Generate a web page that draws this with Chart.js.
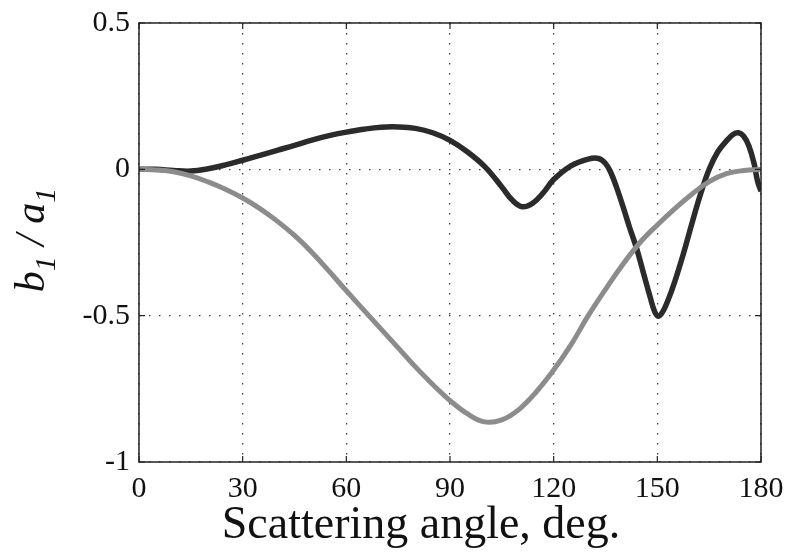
<!DOCTYPE html>
<html>
<head>
<meta charset="utf-8">
<script src="https://cdn.jsdelivr.net/npm/chart.js@4"></script>
<style>
  html, body { margin: 0; padding: 0; background: #fff; }
  #wrap { width: 788px; height: 553px; position: relative; }
</style>
</head>
<body>
<div id="wrap"><canvas id="chart"></canvas></div>
<script>
// scattering angle (deg) and b1/a1 values
const grayAngles = [0, 5, 10, 15, 20, 25, 30, 35, 40, 45, 50, 55, 60, 65, 70, 75, 80, 85, 90, 95,
  100, 105, 110, 115, 120, 125, 130, 135, 140, 145, 150, 155, 160, 165, 170, 175, 180];
const grayValues = [0, -0.002, -0.008, -0.022, -0.043, -0.068, -0.098, -0.134, -0.177, -0.226,
  -0.283, -0.348, -0.415, -0.48, -0.545, -0.61, -0.675, -0.735, -0.79, -0.835, -0.863, -0.856,
  -0.82, -0.76, -0.686, -0.6, -0.5, -0.41, -0.325, -0.25, -0.19, -0.135, -0.085, -0.042, -0.015,
  -0.004, 0];

const darkAngles = [0, 5, 10, 15, 20, 25, 30, 35, 40, 45, 50, 55, 60, 65, 70, 75, 80, 85, 90, 95,
  100, 105, 108, 111, 114, 117, 120, 125, 130, 133, 135, 136.5, 138, 140, 142, 144, 146, 148,
  149.2, 150.3, 151.5, 153, 155, 157.5, 160, 162.5, 165, 167.5, 170, 172, 173.5, 175, 176.5, 178,
  179, 180];
const darkValues = [0, 0, -0.004, -0.006, 0.002, 0.015, 0.031, 0.048, 0.065, 0.082, 0.1, 0.115,
  0.127, 0.137, 0.144, 0.145, 0.14, 0.125, 0.099, 0.06, 0.01, -0.06, -0.105, -0.128, -0.115, -0.08,
  -0.035, 0.012, 0.035, 0.037, 0.02, -0.01, -0.055, -0.125, -0.2, -0.27, -0.355, -0.44, -0.485,
  -0.502, -0.488, -0.45, -0.385, -0.29, -0.185, -0.085, 0, 0.06, 0.097, 0.12, 0.125, 0.113, 0.08,
  0.02, -0.04, -0.075];

const xTicks = [0, 30, 60, 90, 120, 150, 180];
const yTicks = [-1, -0.5, 0, 0.5];
const xTitle = 'Scattering angle, deg.';

const serif = '"Liberation Serif", "Times New Roman", serif';

function toPoints(xs, ys) {
  return xs.map((x, i) => ({ x: x, y: ys[i] }));
}

// frame, inward tick marks, axis titles (y one has subscripts)
const framePlugin = {
  id: 'frame',
  afterDatasetsDraw(chart) {
    const { ctx, chartArea: a, scales } = chart;
    ctx.save();
    ctx.strokeStyle = '#222';
    ctx.lineWidth = 1.5;
    ctx.strokeRect(a.left, a.top, a.right - a.left, a.bottom - a.top);
    ctx.lineWidth = 1.2;
    ctx.beginPath();
    xTicks.forEach(v => {
      const px = scales.x.getPixelForValue(v);
      ctx.moveTo(px, a.bottom); ctx.lineTo(px, a.bottom - 6);
      ctx.moveTo(px, a.top); ctx.lineTo(px, a.top + 6);
    });
    yTicks.forEach(v => {
      const py = scales.y.getPixelForValue(v);
      ctx.moveTo(a.left, py); ctx.lineTo(a.left + 6, py);
      ctx.moveTo(a.right, py); ctx.lineTo(a.right - 6, py);
    });
    ctx.stroke();
    ctx.restore();
  },
  afterDraw(chart) {
    const ctx = chart.ctx;
    ctx.save();
    ctx.fillStyle = '#111';
    ctx.font = '46px ' + serif;
    ctx.textAlign = 'center';
    ctx.textBaseline = 'alphabetic';
    ctx.fillText(xTitle, 421, 538);
    ctx.restore();

    const parts = [
      { t: 'b', sub: false }, { t: '1', sub: true }, { t: ' / ', sub: false },
      { t: 'a', sub: false }, { t: '1', sub: true }
    ];
    const big = 'italic 42px ' + serif;
    const small = 'italic 30px ' + serif;
    ctx.save();
    let total = 0;
    parts.forEach(p => { ctx.font = p.sub ? small : big; total += ctx.measureText(p.t).width; });
    ctx.translate(44, 240);
    ctx.rotate(-Math.PI / 2);
    ctx.fillStyle = '#111';
    ctx.textBaseline = 'alphabetic';
    let x = -total / 2;
    parts.forEach(p => {
      ctx.font = p.sub ? small : big;
      ctx.fillText(p.t, x, p.sub ? 11 : 0);
      x += ctx.measureText(p.t).width;
    });
    ctx.restore();
  }
};

new Chart(document.getElementById('chart'), {
  type: 'line',
  data: {
    datasets: [
      {
        data: toPoints(grayAngles, grayValues),
        borderColor: '#8c8c8c',
        borderWidth: 5,
        pointRadius: 0,
        tension: 0.4,
        fill: false
      },
      {
        data: toPoints(darkAngles, darkValues),
        borderColor: '#2b2b2b',
        borderWidth: 5.5,
        pointRadius: 0,
        tension: 0.4,
        fill: false
      }
    ]
  },
  options: {
    responsive: true,
    maintainAspectRatio: false,
    animation: false,
    layout: { padding: { left: 0, top: 23, right: 27, bottom: 0 } },
    plugins: {
      legend: { display: false },
      tooltip: { enabled: false }
    },
    scales: {
      x: {
        type: 'linear',
        min: 0,
        max: 180,
        afterBuildTicks: s => { s.ticks = xTicks.map(v => ({ value: v })); },
        afterFit: s => {
          s.height = 91;
          s.paddingLeft = 0;
          s.paddingRight = 0;
        },
        grid: {
          color: '#444',
          lineWidth: 1.3,
          drawTicks: false
        },
        border: { display: false, dash: [1.5, 8.5] },
        ticks: {
          color: '#111',
          padding: 9,
          maxRotation: 0,
          font: { family: serif, size: 30 }
        }
      },
      y: {
        type: 'linear',
        min: -1,
        max: 0.5,
        afterBuildTicks: s => { s.ticks = yTicks.map(v => ({ value: v })); },
        afterFit: s => {
          s.width = 139;
          s.paddingTop = 0;
          s.paddingBottom = 0;
        },
        grid: {
          color: '#444',
          lineWidth: 1.3,
          drawTicks: false
        },
        border: { display: false, dash: [1.5, 8.5] },
        ticks: {
          color: '#111',
          padding: 9,
          font: { family: serif, size: 30 },
          callback: v => String(v)
        }
      }
    }
  },
  plugins: [framePlugin]
});
</script>
</body>
</html>
